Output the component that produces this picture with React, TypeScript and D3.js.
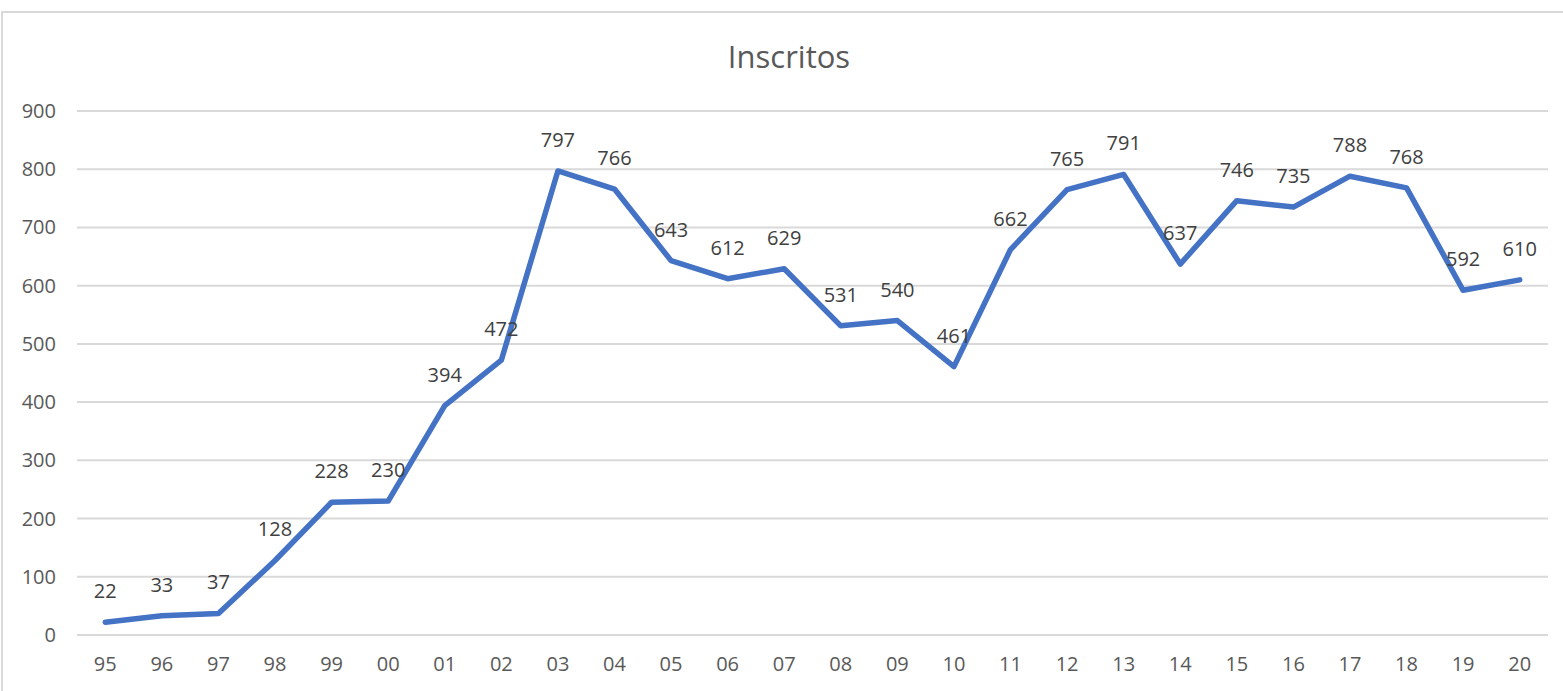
import { useEffect, useRef } from "react";
import * as d3 from "d3";

const years = ["95","96","97","98","99","00","01","02","03","04","05","06","07","08","09","10","11","12","13","14","15","16","17","18","19","20"];
const inscritos = [22,33,37,128,228,230,394,472,797,766,643,612,629,531,540,461,662,765,791,637,746,735,788,768,592,610];
const yTicks = [0,100,200,300,400,500,600,700,800,900];

export default function App() {
  const svgRef = useRef<SVGSVGElement>(null);

  useEffect(() => {
    const W = 1563;
    const H = 691;
    const margin = { top: 111, right: 15, bottom: 56, left: 77 };
    const width = W - margin.left - margin.right;
    const height = H - margin.top - margin.bottom;
    const font = "'Segoe UI', 'Open Sans', 'Noto Sans', sans-serif";

    const svg = d3.select(svgRef.current);
    svg.selectAll("*").remove();
    svg.attr("width", W).attr("height", H);

    svg.append("rect").attr("width", W).attr("height", H).attr("fill", "#fff");
    // chart frame (cropped at right/bottom)
    svg.append("rect")
      .attr("x", 2).attr("y", 12)
      .attr("width", W + 20).attr("height", H + 20)
      .attr("fill", "none").attr("stroke", "#d9d9d9").attr("stroke-width", 2);

    svg.append("text")
      .attr("x", 789).attr("y", 68)
      .attr("text-anchor", "middle")
      .attr("font-family", font).attr("font-size", 31)
      .attr("fill", "#595959")
      .text("Inscritos");

    const g = svg.append("g").attr("transform", `translate(${margin.left},${margin.top})`);

    const x = d3.scaleBand().domain(years).range([0, width]);
    const y = d3.scaleLinear().domain([0, 900]).range([height, 0]);
    const cx = (d: string) => (x(d) ?? 0) + x.bandwidth() / 2;

    // gridlines
    g.selectAll("line.grid").data(yTicks).enter().append("line")
      .attr("x1", 0).attr("x2", width)
      .attr("y1", (d) => y(d)).attr("y2", (d) => y(d))
      .attr("stroke", "#d9d9d9").attr("stroke-width", 2);

    // y labels
    g.selectAll("text.ytick").data(yTicks).enter().append("text")
      .attr("x", -21).attr("y", (d) => y(d)).attr("dy", "0.35em")
      .attr("text-anchor", "end")
      .attr("font-family", font).attr("font-size", 20).attr("fill", "#595959")
      .text((d) => d);

    // x labels
    g.selectAll("text.xtick").data(years).enter().append("text")
      .attr("x", cx).attr("y", height + 29).attr("dy", "0.35em")
      .attr("text-anchor", "middle")
      .attr("font-family", font).attr("font-size", 20).attr("fill", "#595959")
      .text((d) => d);

    const line = d3.line<number>()
      .x((_, i) => cx(years[i]))
      .y((d) => y(d));

    g.append("path").datum(inscritos)
      .attr("d", line)
      .attr("fill", "none").attr("stroke", "#4472c4")
      .attr("stroke-width", 5.5).attr("stroke-linejoin", "round").attr("stroke-linecap", "round");

    g.selectAll("text.lbl").data(inscritos).enter().append("text")
      .attr("x", (_, i) => cx(years[i])).attr("y", (d) => y(d) - 31).attr("dy", "0.35em")
      .attr("text-anchor", "middle")
      .attr("font-family", font).attr("font-size", 20).attr("fill", "#404040")
      .text((d) => d);
  }, []);

  return <svg ref={svgRef} style={{ position: "absolute", left: 0, top: 0 }} />;
}
